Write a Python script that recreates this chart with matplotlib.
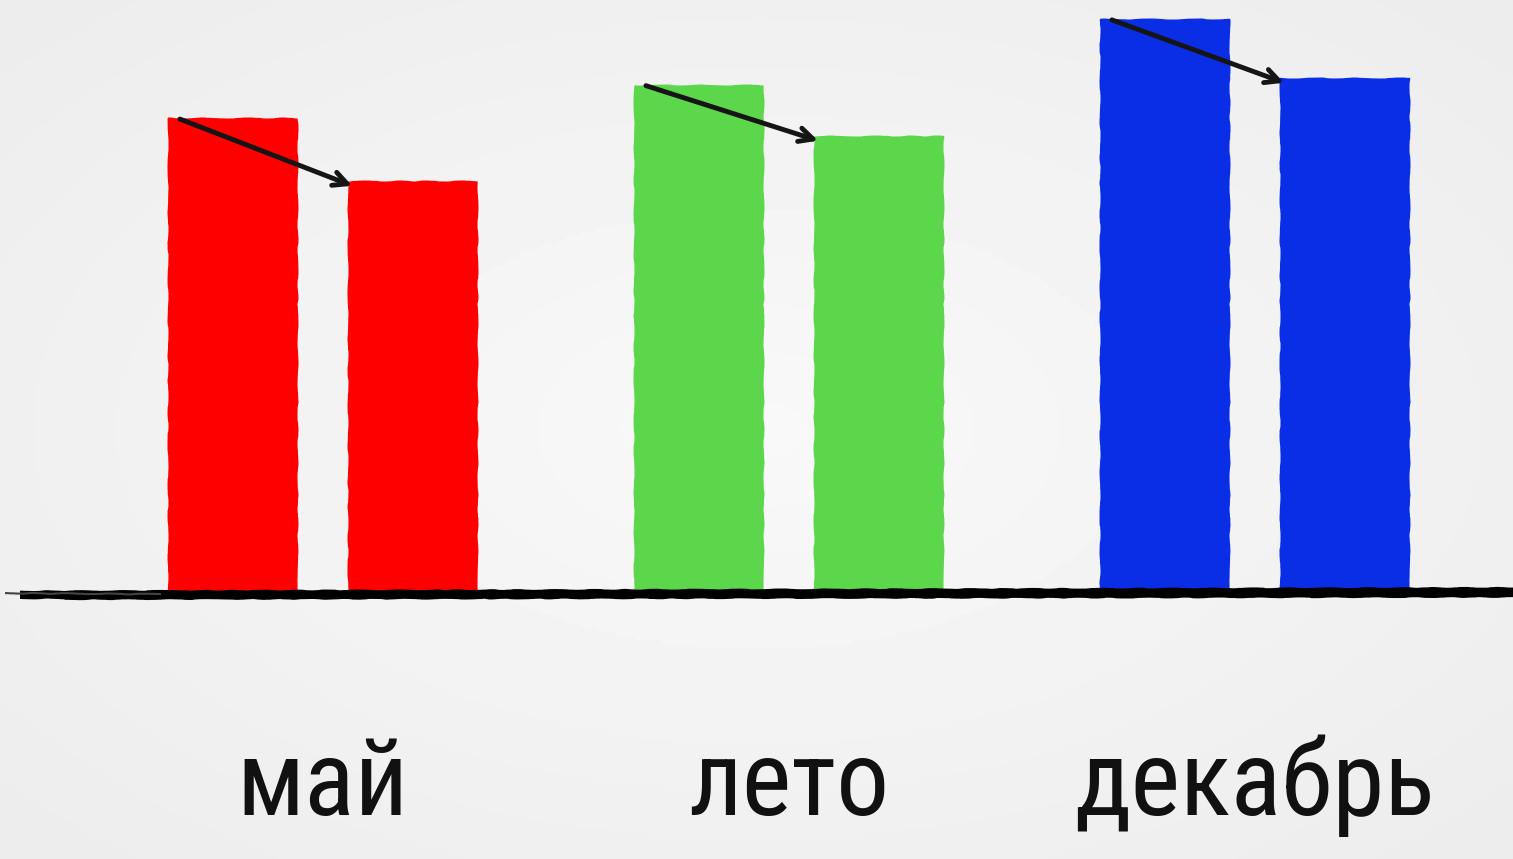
import numpy as np
import matplotlib.pyplot as plt

# data (arbitrary units, tallest bar = 100)
months = ['май', 'лето', 'декабрь']
before = [82.7, 88.5, 100.0]
after = [71.7, 79.6, 89.7]
colors = ['#ff0000', '#5cd64a', '#0a2ee6']

fig = plt.figure(figsize=(15.13, 8.59), dpi=100)
ax = fig.add_axes([0, 0, 1, 1])

# soft grey background, lighter in the middle
gx, gy = np.meshgrid(np.linspace(-1, 1, 300), np.linspace(-1, 1, 200))
bg = 0.975 - 0.035 * np.clip(np.sqrt(gx**2 + gy**2), 0, 1.4)
ax.imshow(bg, cmap='gray', vmin=0, vmax=1, extent=[-0.693, 2.554, -46.6, 103.3],
          aspect='auto', zorder=0)

x = np.arange(len(months))
w = 0.279
off = 0.193
b1 = ax.bar(x - off, before, w, color=colors, zorder=2)
b2 = ax.bar(x + off, after, w, color=colors, zorder=2)
for b in list(b1) + list(b2):
    b.set_sketch_params(scale=0.5, length=80, randomness=10)

# rough baseline
l1, = ax.plot([-0.65, 2.554], [-0.5, 0.1], color='black', lw=6, solid_capstyle='butt', zorder=3)
l2, = ax.plot([-0.55, 2.554], [-1.0, -0.6], color='black', lw=3, zorder=3)
l3, = ax.plot([-0.68, -0.35], [-0.2, -0.4], color='#444444', lw=1.5, zorder=3)
for l in (l1, l2, l3):
    l.set_sketch_params(0.4, 80, 10)

# arrows from first bar top to second bar top
for i in range(len(months)):
    ax.annotate('', xy=(x[i] + off - w / 2 + 0.015, after[i] - 1.0),
                xytext=(x[i] - off - w / 2 + 0.02, before[i]),
                arrowprops=dict(arrowstyle='->,head_length=1.0,head_width=0.5',
                                color='#151515', lw=3.5),
                zorder=4)

for i, m in enumerate(months):
    ax.text(x[i] + 0.0, -39, m, ha='center', va='baseline', fontsize=76,
            family=['Roboto Condensed', 'DejaVu Sans'],
            color='#111111', zorder=5)

ax.set_xlim(-0.693, 2.554)
ax.set_ylim(-46.6, 103.3)
ax.axis('off')

fig.savefig('out.png', dpi=100)
